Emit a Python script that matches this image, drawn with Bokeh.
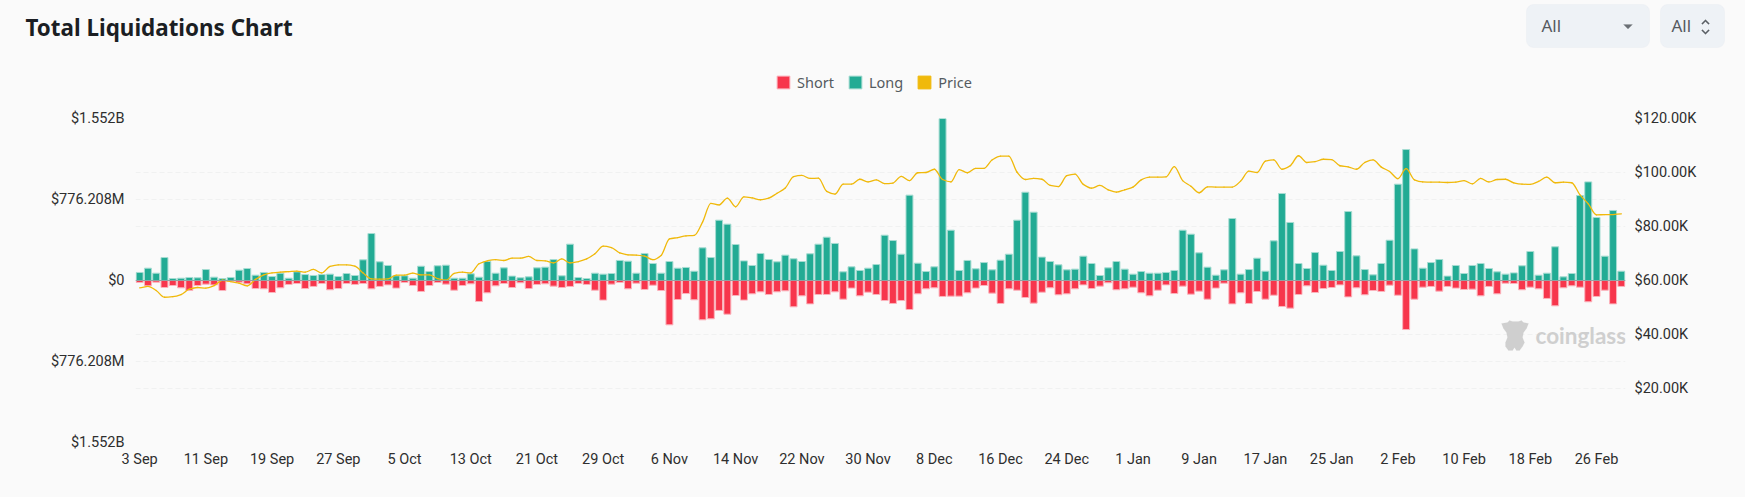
from bokeh.plotting import figure
from bokeh.embed import file_html
from bokeh.layouts import column
from bokeh.resources import INLINE
from bokeh.models import (Range1d, LinearAxis, FixedTicker, Grid, Span, Label, BoxAnnotation,
                          PolyAnnotation, Legend, LegendItem, ColumnDataSource)

# Liquidations in $ millions, one per day from 3 Sep to 1 Mar; price in $ thousands
long_m = [77,118,70,220,19,22,29,26,105,32,19,29,99,115,51,77,38,70,22,83,57,48,57,61,38,67,48,198,450,179,
          144,45,45,22,137,86,141,147,22,22,64,32,182,70,121,42,26,35,121,128,201,45,348,29,19,70,61,67,192,185,
          70,259,163,70,182,118,125,89,313,220,578,540,345,188,144,259,201,179,243,208,182,256,348,415,355,83,131,96,118,153,
          434,383,252,818,166,86,131,1552,482,96,192,112,172,102,195,252,578,846,655,224,182,150,102,109,233,163,48,121,182,109,
          61,86,70,70,77,96,482,444,265,128,51,102,594,61,105,214,89,380,834,556,163,115,268,147,96,278,661,236,105,54,
          163,386,923,1255,303,118,172,201,42,144,67,144,163,115,83,61,73,141,278,51,70,323,35,67,814,945,604,233,671,89]
short_m = [19,51,16,67,48,70,96,48,35,42,96,10,16,32,77,80,115,70,38,29,77,57,29,89,77,29,38,29,80,57,
           42,73,19,48,105,48,19,35,93,48,32,201,118,51,29,67,22,77,38,32,54,67,57,29,38,93,188,35,19,80,
           26,86,45,96,425,182,125,185,377,367,287,323,144,188,128,109,134,109,99,252,147,224,134,134,109,179,73,147,112,134,
           192,220,192,278,128,80,70,153,150,150,118,73,48,121,220,80,93,163,217,112,70,137,128,80,42,77,54,22,89,80,
           64,118,147,93,42,125,54,131,102,179,73,26,224,118,220,105,179,141,249,265,134,51,115,77,67,42,157,70,137,96,
           105,45,141,470,179,64,57,102,57,73,86,83,147,57,128,26,29,89,64,80,172,243,70,51,64,204,153,93,224,57]
price_k = [57.3,57.8,56.3,53.8,54.0,54.8,56.8,57.4,57.2,58.1,60.1,59.6,59.0,58.0,60.4,62.1,62.8,63.1,63.3,63.5,
           63.1,64.1,62.8,65.2,65.8,65.8,65.3,62.8,60.6,60.5,60.6,62.0,62.0,62.7,62.1,62.1,60.7,60.1,62.6,63.1,
           62.8,66.2,67.3,67.7,67.4,68.3,68.3,68.9,67.4,67.3,66.5,68.0,66.5,67.0,68.0,69.9,72.7,72.2,70.2,69.5,
           69.4,69.0,67.7,69.3,75.4,75.9,76.5,76.7,81.6,88.6,88.0,90.5,87.3,91.0,90.6,89.9,90.5,92.3,94.3,98.5,
           98.9,97.8,97.9,93.0,92.0,95.7,95.7,97.5,96.5,97.3,95.9,96.1,98.6,97.0,99.9,100.0,101.2,97.4,96.5,101.1,
           99.9,101.5,101.5,104.7,106.1,106.1,100.1,97.4,97.8,97.5,95.2,94.8,98.8,99.4,95.6,94.2,95.2,93.6,92.7,93.6,
           94.6,97.3,98.3,98.3,98.4,102.2,97.0,94.9,92.5,94.7,94.6,94.6,94.6,96.8,100.5,100.0,104.2,104.7,101.2,102.5,
           106.2,103.7,104.0,104.9,104.8,102.5,102.1,101.2,103.7,104.7,102.0,100.4,97.7,101.4,97.3,96.5,96.4,96.4,96.3,96.4,
           97.0,95.8,97.8,96.5,97.4,97.5,96.2,95.7,95.6,96.7,98.3,96.2,96.4,96.2,91.7,88.4,84.3,84.4,84.4,84.7]
x_labels = ["3 Sep","11 Sep","19 Sep","27 Sep","5 Oct","13 Oct","21 Oct","29 Oct","6 Nov","14 Nov","22 Nov","30 Nov",
            "8 Dec","16 Dec","24 Dec","1 Jan","9 Jan","17 Jan","25 Jan","2 Feb","10 Feb","18 Feb","26 Feb"]
left_ticks = [-1552.416, -776.208, 0, 776.208, 1552.416]
left_labels = ["$1.552B", "$776.208M", "$0", "$776.208M", "$1.552B"]
right_ticks = [20, 40, 60, 80, 100, 120]
right_labels = ["$20.00K", "$40.00K", "$60.00K", "$80.00K", "$100.00K", "$120.00K"]
series_names = ["Short", "Long", "Price"]

BG = "#fafafa"
GREEN, GREEN_EDGE = "#22ab94", "#a6dcd2"
RED, RED_EDGE = "#f7364c", "#fbb3bc"
YELLOW = "#f0b90b"
TICK = "#2e2e2e"
W, H, HEAD = 1745, 497, 96
FRAME_TOP = 118

days = list(range(len(long_m)))
src = ColumnDataSource(dict(day=days, long=long_m, short=[-v for v in short_m]))

# ---- header strip: title, legend, dropdowns (pixel-like ranges, y down)
h = figure(width=W, height=HEAD, output_backend="svg", toolbar_location=None,
           x_range=Range1d(0, W), y_range=Range1d(HEAD, 0), x_axis_type=None, y_axis_type=None,
           min_border=0, frame_align=False, background_fill_color=BG, border_fill_color=BG, outline_line_color=None)
h.grid.visible = False


def label(fig, text, x, y, size, color, font="Noto Sans", style_="normal"):
    fig.add_layout(Label(x=x, y=y, text=text, text_font=font, text_font_size=size, text_color=color,
                         text_font_style=style_, text_align="left", text_baseline="middle"))


def box(l, r, t, b):
    h.add_layout(BoxAnnotation(left=l, right=r, top=t, bottom=b, fill_color="#eef2f6", fill_alpha=1,
                               line_color="#e3e8ed", line_width=1, border_radius=7, editable=False))


def poly(fig, pts, color):
    fig.add_layout(PolyAnnotation(xs=[a for a, _ in pts], ys=[b for _, b in pts], fill_color=color, fill_alpha=1,
                                  line_color=color, line_width=0.5))


label(h, "Total Liquidations Chart", 25, 27, "22.4px", "#1b1e23", style_="bold")
box(1526, 1649, 4, 47)
label(h, "All", 1541, 25, "17px", "#55595f")
poly(h, [(1623, 24), (1632, 24), (1627.5, 28.5)], "#6b7075")
box(1660, 1724, 4, 47)
label(h, "All", 1671, 25, "17px", "#55595f")
poly(h, [(1701, 23), (1705, 19), (1709, 23), (1708, 24), (1705, 21), (1702, 24)], "#5a5f64")
poly(h, [(1701, 30), (1702, 29), (1705, 32), (1708, 29), (1709, 30), (1705, 34)], "#5a5f64")

nan = float("nan")
swatches = [h.vbar(x=[nan], top=[nan], bottom=0, width=1, fill_color=c, line_color=e)
            for c, e in ((RED, RED_EDGE), (GREEN, GREEN_EDGE), (YELLOW, YELLOW))]
legend = Legend(items=[LegendItem(label=n, renderers=[r]) for n, r in zip(series_names, swatches)],
                orientation="horizontal", location=(775, 4), background_fill_alpha=0, border_line_color=None,
                glyph_width=16, glyph_height=16, label_standoff=6, spacing=13, padding=0, margin=0,
                label_text_font="Noto Sans", label_text_font_size="14.5px", label_text_color="#555a60")
h.add_layout(legend, "center")

# ---- the chart
p = figure(width=W, height=H - HEAD, output_backend="svg", toolbar_location=None,
           x_range=Range1d(-0.5, len(days) - 0.5),
           y_range=Range1d(left_ticks[0], left_ticks[-1]),
           min_border_left=135, min_border_right=120, min_border_top=FRAME_TOP - HEAD, min_border_bottom=55,
           frame_align=False, background_fill_color=BG, border_fill_color=BG, outline_line_color=None)
p.extra_y_ranges["price"] = Range1d(0, 120)
p.grid.visible = False


def style(ax):
    ax.axis_line_color = None
    ax.major_tick_line_color = None
    ax.minor_tick_line_color = None
    ax.major_label_text_color = TICK
    ax.major_label_text_font = "Roboto"
    ax.major_label_text_font_size = "14.5px"


style(p.xaxis[0])
p.xaxis[0].ticker = FixedTicker(ticks=days[::8][:len(x_labels)])
p.xaxis[0].major_label_overrides = {d: s for d, s in zip(days[::8], x_labels)}
p.xaxis[0].major_label_standoff = 2

style(p.yaxis[0])
p.yaxis[0].ticker = FixedTicker(ticks=left_ticks)
p.yaxis[0].major_label_overrides = dict(zip(left_ticks, left_labels))
p.yaxis[0].major_label_standoff = 5

right = LinearAxis(y_range_name="price")
style(right)
right.ticker = FixedTicker(ticks=right_ticks)
right.major_label_overrides = dict(zip(right_ticks, right_labels))
right.major_label_standoff = 3
p.add_layout(right, "right")

for ticks, rng in ((left_ticks, "default"), (right_ticks, "price")):
    p.add_layout(Grid(dimension=1, ticker=FixedTicker(ticks=ticks), y_range_name=rng,
                      grid_line_color="#f0f1f1", grid_line_dash="5 3", grid_line_width=1, level="underlay"), "center")

w = 0.84
p.vbar(x="day", top="short", bottom=0, width=w, source=src, fill_color=RED, line_color=RED_EDGE, line_width=1)
p.vbar(x="day", top="long", bottom=0, width=w, source=src, fill_color=GREEN, line_color=GREEN_EDGE, line_width=1)
p.add_layout(Span(location=0, dimension="width", line_color="#8fa3a2", line_width=1))

# price drawn as a smooth curve through the read values
n = len(price_k)
slope = [0.0] * n
for i in range(1, n - 1):
    a, b = price_k[i] - price_k[i - 1], price_k[i + 1] - price_k[i]
    slope[i] = 0.0 if a * b <= 0 else 2 * a * b / (a + b)
curve = dict(x0=days[:-1], y0=price_k[:-1], x1=days[1:], y1=price_k[1:],
             cx0=[d + 1 / 3 for d in days[:-1]], cy0=[price_k[i] + slope[i] / 3 for i in range(n - 1)],
             cx1=[d + 2 / 3 for d in days[:-1]], cy1=[price_k[i + 1] - slope[i + 1] / 3 for i in range(n - 1)])
p.bezier(x0="x0", y0="y0", x1="x1", y1="y1", cx0="cx0", cy0="cy0", cx1="cx1", cy1="cy1",
         source=ColumnDataSource(curve), y_range_name="price", line_color=YELLOW, line_width=1.3, line_cap="round")

# coinglass watermark, canvas pixels of the chart figure (y down)
LOGO = "#cfcfcf"
off = HEAD
p.add_layout(PolyAnnotation(xs=[1501, 1507, 1509, 1512, 1518, 1521, 1523, 1528, 1526, 1523, 1522, 1524, 1522, 1519, 1516,
                                1514, 1512, 1508, 1505, 1505, 1507, 1506, 1503],
                            ys=[y - off for y in (323, 322, 320, 321, 321, 320, 322, 323, 328, 332, 337, 342, 346, 350,
                                                  350, 347, 350, 350, 346, 342, 337, 332, 328)],
                            xs_units="canvas", ys_units="canvas", fill_color=LOGO, fill_alpha=1, line_color=LOGO,
                            line_width=0.5))
p.add_layout(Label(x=1535, y=335 - off, x_units="canvas", y_units="canvas", text="coinglass", text_font="Lato",
                   text_font_style="bold", text_font_size="22.5px", text_color=LOGO, text_baseline="middle"))

html = file_html(column(h, p, spacing=0), INLINE)
html = html.replace("</head>", "<style>html,body{background:%s;overflow:hidden}</style></head>" % BG, 1)
open("out.html", "w").write(html)
